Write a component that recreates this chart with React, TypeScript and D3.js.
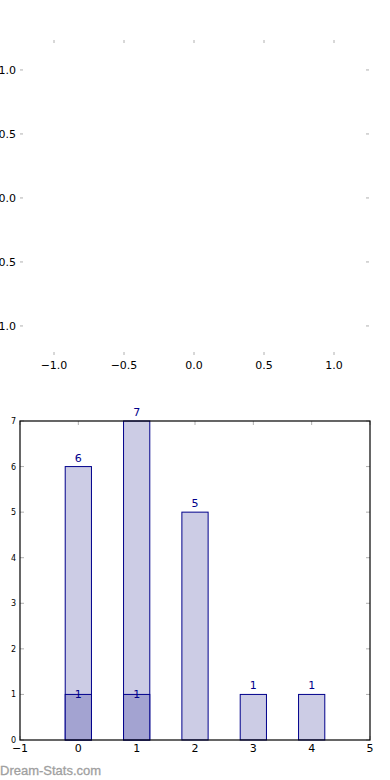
import React, { useEffect, useRef } from 'react';
import * as d3 from 'd3';

// top (empty) axes ticks
const topXTicks = [-1.0, -0.5, 0.0, 0.5, 1.0];
const topYTicks = [1.0, 0.5, 0.0, -0.5, -1.0];

// bar chart data
const categories = [0, 1, 2, 3, 4];
const totals = [6, 7, 5, 1, 1];
const subset = [1, 1, 0, 0, 0];
const barXTicks = [-1, 0, 1, 2, 3, 4, 5];
const barYTicks = [0, 1, 2, 3, 4, 5, 6, 7];

const FONT = 'DejaVu Sans, sans-serif';
const TICK = '#b0b0b0';

const App = () => {
  const svgRef = useRef<SVGSVGElement | null>(null);

  useEffect(() => {
    const svg = d3.select(svgRef.current);
    svg.selectAll('*').remove();

    // ---- top empty axes ----
    const tx = d3.scaleLinear().domain([-1.25, 1.25]).range([19, 369]);
    const ty = d3.scaleLinear().domain([1.234, -1.227]).range([40, 355]);
    const top = svg.append('g');

    top.selectAll('.xt')
      .data(topXTicks)
      .join('g')
      .each(function (d) {
        const g = d3.select(this);
        g.append('line').attr('x1', tx(d)).attr('x2', tx(d)).attr('y1', 40).attr('y2', 43)
          .attr('stroke', TICK).attr('stroke-width', 1);
        g.append('line').attr('x1', tx(d)).attr('x2', tx(d)).attr('y1', 352).attr('y2', 355)
          .attr('stroke', TICK).attr('stroke-width', 1);
        g.append('text').attr('x', tx(d)).attr('y', 369).attr('text-anchor', 'middle')
          .style('font-family', FONT).style('font-size', '11px').attr('fill', '#000')
          .text(d3.format('.1f')(d).replace('-', '\u2212'));
      });

    top.selectAll('.yt')
      .data(topYTicks)
      .join('g')
      .each(function (d) {
        const g = d3.select(this);
        g.append('line').attr('x1', 20).attr('x2', 23).attr('y1', ty(d)).attr('y2', ty(d))
          .attr('stroke', TICK).attr('stroke-width', 1);
        g.append('line').attr('x1', 366).attr('x2', 369).attr('y1', ty(d)).attr('y2', ty(d))
          .attr('stroke', TICK).attr('stroke-width', 1);
        g.append('text').attr('x', 16).attr('y', ty(d) + 4).attr('text-anchor', 'end')
          .style('font-family', FONT).style('font-size', '11px').attr('fill', '#000')
          .text(d3.format('.1f')(d).replace('-', '\u2212'));
      });

    // ---- bar chart ----
    const left = 20, right = 370, topY = 421, bottom = 740;
    const x = d3.scaleLinear().domain([-1, 5]).range([left, right]);
    const y = d3.scaleLinear().domain([0, 7]).range([bottom, topY]);
    const bw = 0.45;
    const g = svg.append('g');

    // ticks inside frame
    barXTicks.forEach((d) => {
      g.append('line').attr('x1', x(d)).attr('x2', x(d)).attr('y1', bottom).attr('y2', bottom - 4)
        .attr('stroke', TICK);
      g.append('line').attr('x1', x(d)).attr('x2', x(d)).attr('y1', topY).attr('y2', topY + 4)
        .attr('stroke', TICK);
      g.append('text').attr('x', x(d)).attr('y', bottom + 12).attr('text-anchor', 'middle')
        .style('font-family', FONT).style('font-size', '11px').attr('fill', '#000')
        .text(String(d).replace('-', '\u2212'));
    });
    barYTicks.forEach((d) => {
      g.append('line').attr('x1', left).attr('x2', left + 4).attr('y1', y(d)).attr('y2', y(d))
        .attr('stroke', TICK);
      g.append('line').attr('x1', right - 4).attr('x2', right).attr('y1', y(d)).attr('y2', y(d))
        .attr('stroke', TICK);
      g.append('text').attr('x', 16).attr('y', y(d) + 3).attr('text-anchor', 'end')
        .style('font-family', FONT).style('font-size', '8px').attr('fill', '#000')
        .text(String(d));
    });

    g.selectAll('.bar')
      .data(categories)
      .join('rect')
      .attr('x', (d) => x(d - bw / 2))
      .attr('y', (d, i) => y(totals[i]))
      .attr('width', x(bw) - x(0))
      .attr('height', (d, i) => y(0) - y(totals[i]))
      .attr('fill', '#ccccE5')
      .attr('stroke', '#00008b')
      .attr('stroke-width', 1);

    g.selectAll('.sub')
      .data(categories.filter((d, i) => subset[i] > 0))
      .join('rect')
      .attr('x', (d) => x(d - bw / 2))
      .attr('y', (d) => y(subset[d]))
      .attr('width', x(bw) - x(0))
      .attr('height', (d) => y(0) - y(subset[d]))
      .attr('fill', '#a3a3d1')
      .attr('stroke', '#00008b')
      .attr('stroke-width', 1);

    g.selectAll('.lbl')
      .data(categories)
      .join('text')
      .attr('x', (d) => x(d))
      .attr('y', (d, i) => y(totals[i]) - 5)
      .attr('text-anchor', 'middle')
      .style('font-family', FONT).style('font-size', '11px')
      .attr('fill', '#00008b')
      .text((d, i) => totals[i]);

    g.selectAll('.sublbl')
      .data(categories.filter((d, i) => subset[i] > 0))
      .join('text')
      .attr('x', (d) => x(d))
      .attr('y', (d) => y(subset[d]) + 4)
      .attr('text-anchor', 'middle')
      .style('font-family', FONT).style('font-size', '11px')
      .attr('fill', '#00008b')
      .text((d) => subset[d]);

    g.append('rect')
      .attr('x', left).attr('y', topY)
      .attr('width', right - left).attr('height', bottom - topY)
      .attr('fill', 'none').attr('stroke', '#000').attr('stroke-width', 1.2);

    svg.append('text')
      .attr('x', 0).attr('y', 775)
      .style('font-family', 'Liberation Sans, Arial, sans-serif').style('font-size', '13px')
      .attr('fill', '#a0a0a0')
      .attr('stroke', '#a0a0a0').attr('stroke-width', 0.3)
      .text('Dream-Stats.com');
  }, []);

  return (
    <svg ref={svgRef} width={390} height={780}
      style={{ position: 'absolute', left: 0, top: 0, background: '#fff' }} />
  );
};

export default App;
